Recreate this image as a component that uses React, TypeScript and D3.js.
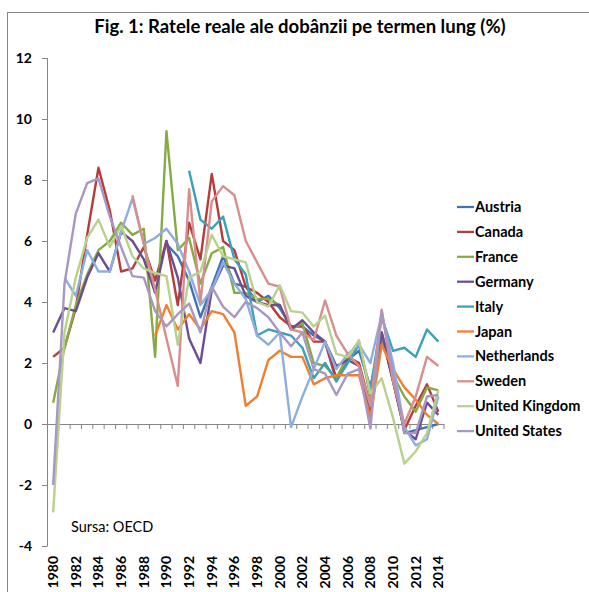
import React from 'react';
import * as d3 from 'd3';

const years = d3.range(1980, 2015);
const N = null;

// values, 1980..2014 (null = no data)
const austria = [N, N, N, N, N, N, N, N, N, N, 5.9, 5.5, 4.7, 3.5, 4.5, 5.5, 4.6, 4.5, 4.0, 4.2, 3.8, 3.2, 3.2, 2.9, 2.7, 1.4, 2.1, 2.4, 1.2, 3.0, 1.7, -0.3, -0.2, -0.1, 0.0];
const canada = [2.2, 2.5, 3.8, 6.2, 8.4, 7.0, 5.0, 5.1, 5.8, 4.7, 6.0, 3.9, 6.6, 5.4, 8.2, 6.0, 5.7, 4.5, 4.3, 4.0, 3.5, 3.2, 3.2, 2.7, 2.7, 1.5, 2.2, 2.0, 0.6, 2.9, 1.4, -0.2, 0.6, 1.3, 0.4];
const france = [0.7, 2.5, 3.9, 4.9, 5.7, 6.0, 6.6, 6.2, 6.4, 2.2, 9.6, 5.7, 6.1, 4.6, 5.6, 5.8, 4.3, 4.3, 4.1, 4.1, 3.9, 3.1, 3.3, 2.0, 1.9, 1.5, 2.2, 2.7, 0.9, 2.9, 1.6, 0.9, 0.4, 1.2, 1.1];
const germany = [3.0, 3.8, 3.7, 4.8, 5.6, 5.0, 6.3, 6.0, 5.4, 4.3, 6.0, 4.8, 2.8, 2.0, 4.4, 5.2, 5.1, 4.2, 4.0, 3.9, 3.9, 3.1, 3.4, 3.0, 2.7, 1.9, 2.1, 1.9, 0.3, 3.0, 1.4, -0.2, -0.5, 0.7, 0.3];
const italy = [N, N, N, N, N, N, N, N, N, N, N, N, 8.3, 6.7, 6.4, 6.8, 5.4, 4.9, 2.9, 3.1, 3.0, 2.9, 2.5, 1.5, 2.0, 1.4, 2.0, 2.6, 1.1, 3.5, 2.4, 2.5, 2.2, 3.1, 2.7];
const japan = [N, N, N, N, N, N, N, N, N, 2.9, 3.9, 3.1, 3.6, 3.1, 3.7, 3.6, 3.0, 0.6, 0.9, 2.1, 2.4, 2.2, 2.2, 1.3, 1.5, 1.6, 1.6, 1.6, 0.2, 2.6, 1.8, 1.2, 0.8, 0.3, 0.0];
const netherlands = [N, 4.8, 4.2, 5.7, 5.0, 5.0, 6.3, 7.4, 5.9, 6.1, 6.4, 5.9, 5.0, 3.9, 4.4, 5.3, 4.6, 4.1, 2.9, 2.6, 3.0, -0.1, 0.9, 1.8, 2.7, 1.8, 2.3, 2.6, 2.0, 3.6, 2.0, -0.1, -0.7, -0.5, 0.9];
const sweden = [N, N, N, N, N, N, N, 7.5, 5.9, 4.4, 2.8, 1.25, 7.7, 4.0, 7.3, 7.8, 7.5, 6.0, 5.3, 4.6, 4.5, 3.1, 3.0, 2.75, 4.05, 2.9, 2.3, 1.9, 0.6, 3.75, 1.4, 0.0, 0.9, 2.2, 1.9];
const unitedKingdom = [-2.9, 3.0, 4.8, 6.1, 6.7, 5.8, 6.5, 5.5, 5.1, 4.95, 4.85, 2.6, 4.8, 5.0, 6.2, 5.5, 5.4, 5.3, 4.0, 3.85, 4.55, 3.7, 3.65, 3.2, 3.55, 2.3, 2.2, 2.75, 1.0, 1.5, 0.2, -1.3, -0.9, -0.3, 1.1];
const unitedStates = [-2.0, 4.6, 6.9, 7.9, 8.05, 6.8, 5.8, 4.85, 4.8, 3.7, 3.2, 3.6, 3.95, 3.0, 4.5, 3.85, 3.5, 4.0, 3.8, 3.5, 3.0, 2.55, 3.0, 1.8, 1.65, 0.95, 1.65, 1.8, -0.15, 3.7, 1.7, -0.3, -0.3, 0.9, 0.95];

const seriesNames = ['Austria', 'Canada', 'France', 'Germany', 'Italy', 'Japan', 'Netherlands', 'Sweden', 'United Kingdom', 'United States'];
const seriesValues = [austria, canada, france, germany, italy, japan, netherlands, sweden, unitedKingdom, unitedStates];
const colors = ['#3F73B5', '#B53C3A', '#86AA44', '#6B4E92', '#3AA0BB', '#EE8030', '#8EAEDD', '#D88E8C', '#B9D08E', '#A897C2'];

const yTicks = [-4, -2, 0, 2, 4, 6, 8, 10, 12];
const xLabels = years.filter((y) => y % 2 === 0);

const title = 'Fig. 1: Ratele reale ale dobânzii pe termen lung (%)';
const source = 'Sursa: OECD';

const font = 'Lato, Calibri, "Open Sans", sans-serif';
const axisColor = '#868686';

export default function App() {
  const x = d3.scaleBand<number>().domain(years).range([47.5, 444]);
  const y = d3.scaleLinear().domain([-4, 12]).range([546, 58]);
  const cx = (yr: number) => (x(yr) as number) + x.bandwidth() / 2;

  const line = d3
    .line<number | null>()
    .defined((d) => d != null)
    .x((_, i) => cx(years[i]))
    .y((d) => y(d as number));

  return (
    <svg
      width={589}
      height={592}
      style={{ position: 'absolute', left: 0, top: 0, background: '#fff' }}
      fontFamily={font}
    >
      <rect x={7.5} y={12.5} width={700} height={700} fill="none" stroke={axisColor} />
      <text x={300} y={33} textAnchor="middle" fontSize={18.5} fontWeight="bold" fill="#000">
        {title}
      </text>

      {/* y axis */}
      <line x1={47.5} x2={47.5} y1={y(12)} y2={y(-4)} stroke={axisColor} />
      {yTicks.map((t) => (
        <g key={t}>
          <line x1={42} x2={47.5} y1={Math.round(y(t)) + 0.5} y2={Math.round(y(t)) + 0.5} stroke={axisColor} />
          <text x={32} y={y(t) + 5} textAnchor="end" fontSize={14} fontWeight="bold" fill="#000">
            {t}
          </text>
        </g>
      ))}

      {/* x axis at zero */}
      <line x1={47.5} x2={444} y1={Math.round(y(0)) + 0.5} y2={Math.round(y(0)) + 0.5} stroke={axisColor} />
      {years.concat([2015]).map((yr) => {
        const px = yr === 2015 ? 444 : (x(yr) as number);
        return (
          <line key={yr} x1={px} x2={px} y1={y(0)} y2={y(0) + 5} stroke={axisColor} />
        );
      })}
      {xLabels.map((yr) => (
        <text
          key={yr}
          transform={`translate(${cx(yr) + 5},556) rotate(-90)`}
          textAnchor="end"
          fontSize={14}
          fontWeight="bold"
          fill="#000"
        >
          {yr}
        </text>
      ))}

      {/* series */}
      {seriesValues.map((vals, i) => (
        <path
          key={seriesNames[i]}
          d={line(vals) || ''}
          fill="none"
          stroke={colors[i]}
          strokeWidth={2.4}
          strokeLinejoin="round"
        />
      ))}

      {/* legend */}
      {seriesNames.map((name, i) => {
        const ly = 207 + i * 24.9;
        return (
          <g key={name}>
            <line x1={457} x2={474} y1={ly} y2={ly} stroke={colors[i]} strokeWidth={2.25} />
            <text x={475} y={ly + 5} fontSize={14.5} fontWeight="bold" fill="#000">
              {name}
            </text>
          </g>
        );
      })}

      <text x={71} y={532} fontSize={14.5} fill="#000">
        {source}
      </text>
    </svg>
  );
}
